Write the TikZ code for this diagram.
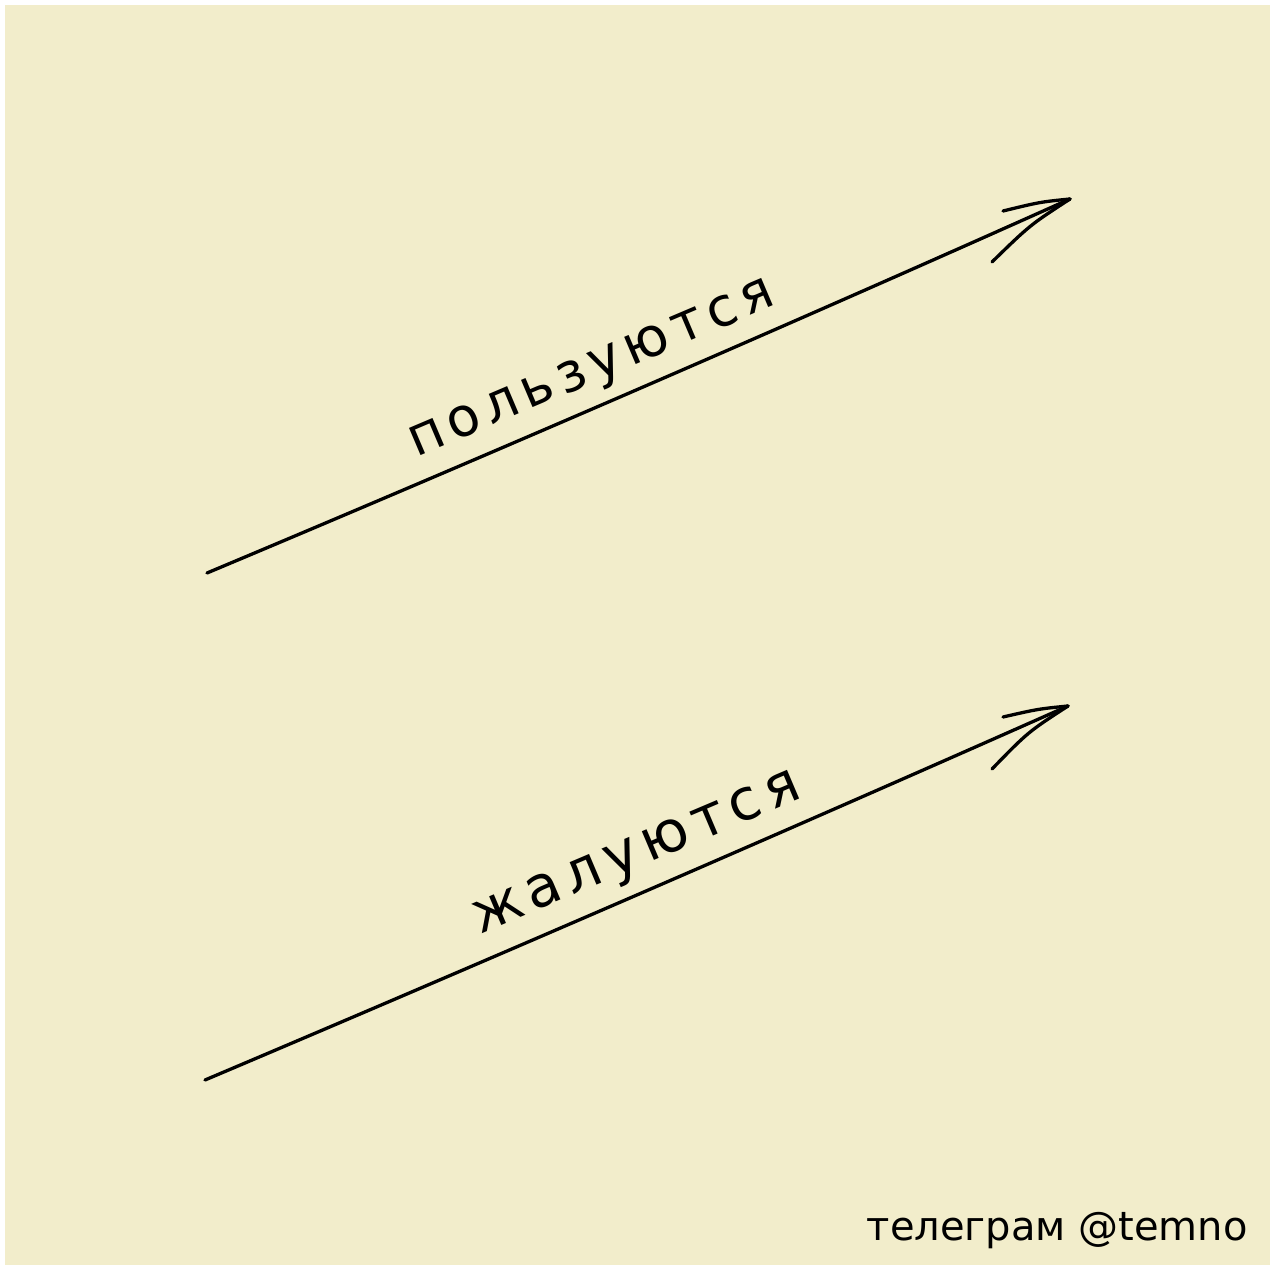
\documentclass[tikz,border=0pt]{standalone}
\usepackage{fontspec}
\setmainfont{DejaVu Sans}
\newfontfamily\handfont[LetterSpace=12]{DejaVu Sans}
\definecolor{paper}{RGB}{242,237,203}
\begin{document}
\begin{tikzpicture}[x=1pt,y=-1pt,
  pen/.style={line width=3.3pt,line cap=round,line join=round,black},
  lbl/.style={font=\handfont\fontsize{54}{60}\selectfont,rotate=23,inner sep=0pt,anchor=base},
  sig/.style={font=\fontsize{40}{46}\selectfont,inner sep=0pt,anchor=base east}]
\useasboundingbox (0,0) rectangle (1270,1265);
\fill[white] (0,0) rectangle (1270,1265);
\fill[paper] (5,5) rectangle (1270,1265);
% top arrow
\coordinate (s1) at (207,573);
\coordinate (e1) at (1070,199);
\coordinate (u1) at (1003,211);
\coordinate (l1) at (992,262);
\draw[pen] (s1) .. controls (500,450) and (800,320) .. (e1);
\draw[pen] (e1) .. controls (1040,202) .. (u1);
\draw[pen] (e1) .. controls (1030,225) .. (l1);
\node[lbl] (t1) at (597,381) {пользуются};
% bottom arrow
\coordinate (s2) at (205,1080);
\coordinate (e2) at (1068,706);
\coordinate (u2) at (1003,717);
\coordinate (l2) at (992,769);
\draw[pen] (s2) .. controls (500,955) and (800,825) .. (e2);
\draw[pen] (e2) .. controls (1038,709) .. (u2);
\draw[pen] (e2) .. controls (1028,732) .. (l2);
\node[lbl,font=\handfont\fontsize{57}{62}\selectfont] (t2) at (642,866) {жалуются};
% signature
\node[sig] (sg) at (1248,1240) {телеграм @temno};
\end{tikzpicture}
\end{document}
